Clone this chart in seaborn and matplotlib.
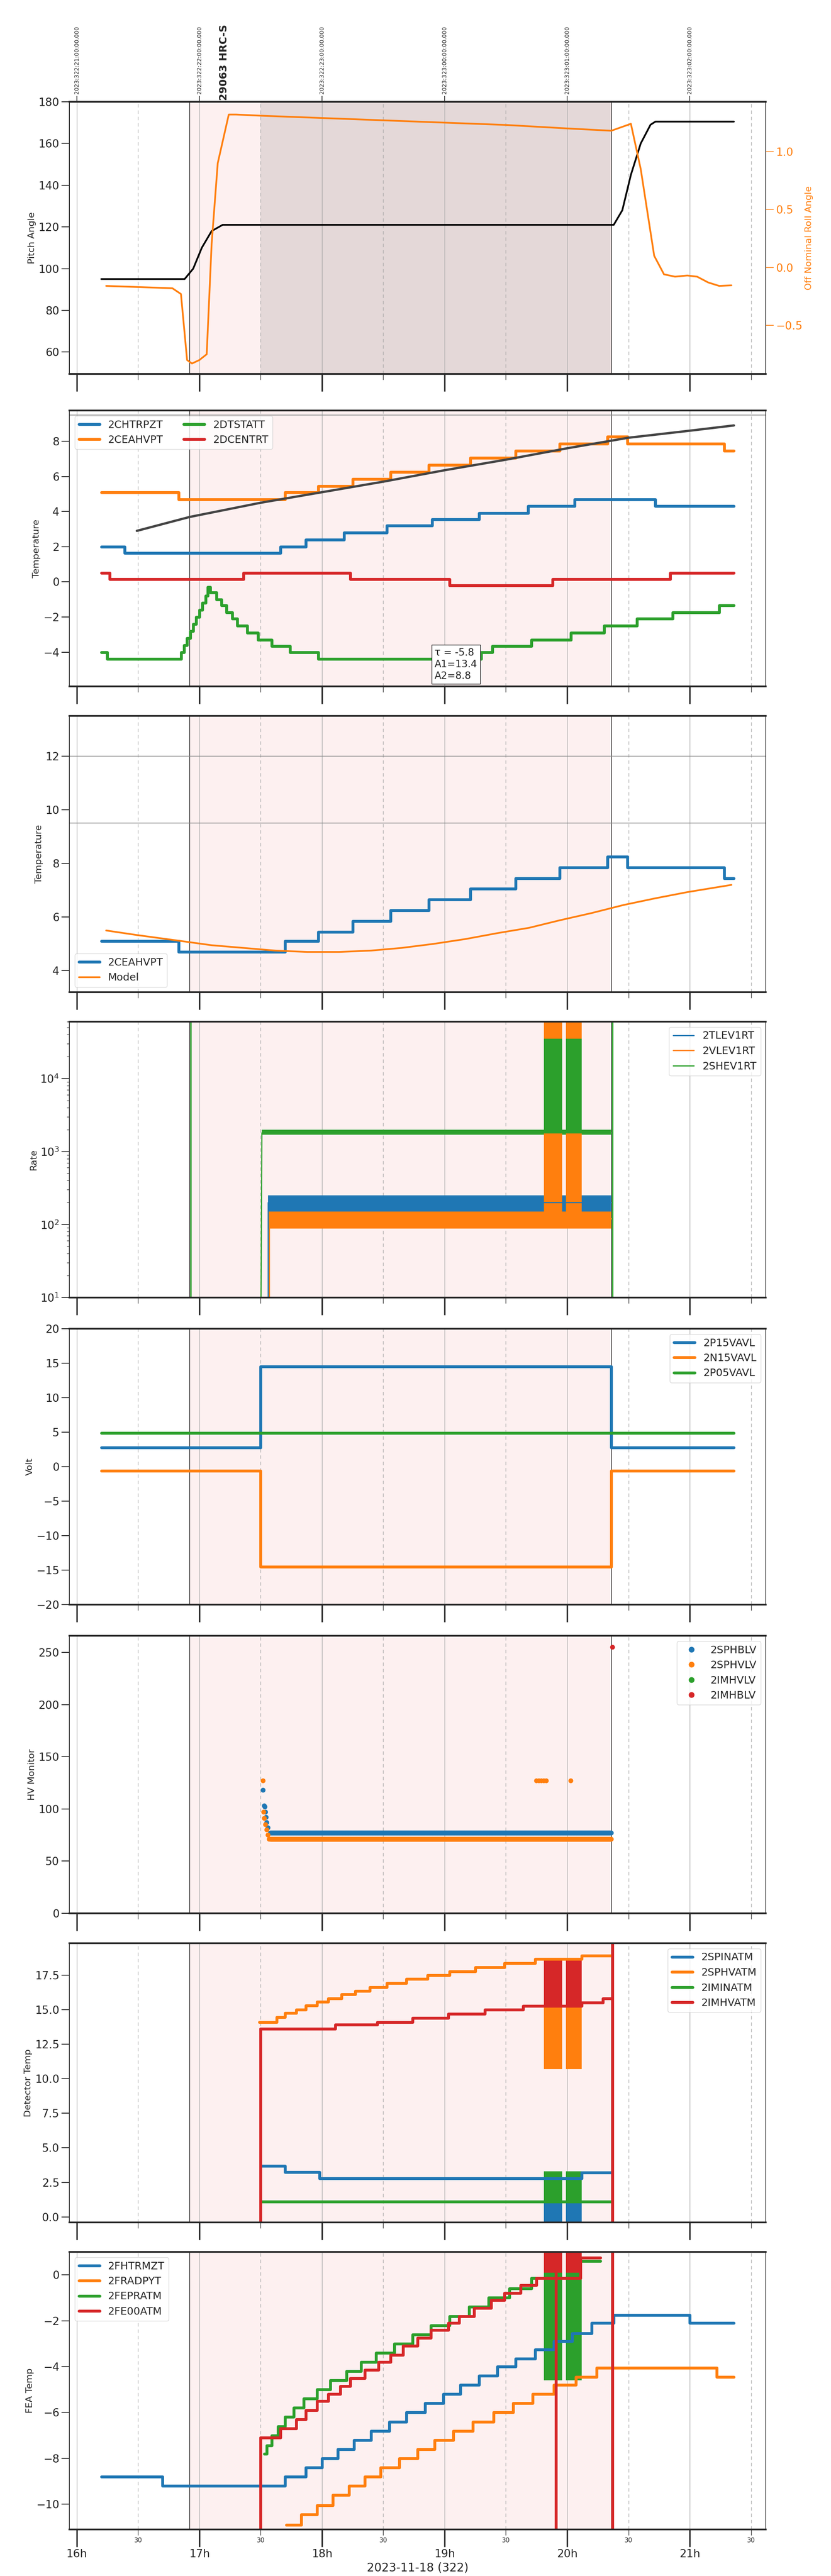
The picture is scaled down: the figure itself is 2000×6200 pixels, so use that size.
import numpy as np
import pandas as pd
import matplotlib
matplotlib.use("Agg")
import matplotlib.pyplot as plt
import seaborn as sns

sns.set_theme(style="ticks")
plt.rcParams['font.family'] = ['DejaVu Sans']

C = sns.color_palette("tab10")
BLUE, ORANGE, GREEN, RED = C[0], C[1], C[2], C[3]

# time in hours of 2023-11-18
T_START, T_END = 15.94, 21.62
OBS_START, HV_ON, OBS_END = 16.92, 17.5, 20.36

# ---- panel 1: pitch / roll
pitch_t = [16.2, 16.88, 16.95, 17.02, 17.1, 17.19, 20.38, 20.45, 20.52, 20.6, 20.68, 20.72, 21.36]
pitch_v = [95, 95, 100, 110, 118, 121, 121, 128, 145, 160, 169, 170.5, 170.5]
roll_t = [16.24, 16.78, 16.85, 16.9, 16.94, 17.0, 17.06, 17.1, 17.15, 17.24, 17.3, 17.5, 18.0, 18.5,
          19.0, 19.5, 20.0, 20.36, 20.52, 20.6, 20.71, 20.79, 20.88, 20.98, 21.06, 21.15, 21.24, 21.34]
roll_v = [-0.16, -0.18, -0.23, -0.8, -0.83, -0.8, -0.75, 0.2, 0.9, 1.32, 1.32, 1.31, 1.29, 1.27,
          1.25, 1.23, 1.2, 1.18, 1.24, 0.85, 0.1, -0.06, -0.08, -0.07, -0.08, -0.13, -0.16, -0.155]

# ---- panel 2: temperatures (step starts)
chtrpzt_t = [16.2, 16.39, 17.66, 17.87, 18.18, 18.53, 18.9, 19.28, 19.68, 20.06, 20.72]
chtrpzt_v = [2.0, 1.65, 2.0, 2.4, 2.8, 3.2, 3.55, 3.9, 4.3, 4.7, 4.3]
ceahvpt_t = [16.2, 16.83, 17.70, 17.97, 18.25, 18.56, 18.87, 19.21, 19.58, 19.94, 20.33, 20.49, 21.28]
ceahvpt_v = [5.1, 4.7, 5.1, 5.45, 5.85, 6.25, 6.65, 7.05, 7.45, 7.85, 8.25, 7.85, 7.45]
dtstatt_t = [16.2, 16.25, 16.85, 16.875, 16.9, 16.925, 16.95, 16.975, 17.0, 17.025, 17.05, 17.07,
             17.09, 17.14, 17.18, 17.22, 17.27, 17.31, 17.39, 17.48, 17.59, 17.74, 17.97, 19.3,
             19.39, 19.71, 20.03, 20.3, 20.57, 20.86, 21.24]
dtstatt_v = [-4.0, -4.4, -4.0, -3.6, -3.2, -2.8, -2.4, -2.0, -1.6, -1.2, -0.8, -0.3,
             -0.6, -1.0, -1.35, -1.75, -2.1, -2.5, -2.9, -3.3, -3.65, -4.0, -4.4, -4.0,
             -3.65, -3.3, -2.9, -2.5, -2.1, -1.75, -1.35]
dcentrt_t = [16.2, 16.27, 17.36, 18.23, 19.04, 19.88, 20.84]
dcentrt_v = [0.5, 0.15, 0.5, 0.15, -0.2, 0.15, 0.5]
fit_t = [16.49, 16.92, 17.5, 18.0, 18.5, 19.0, 19.5, 20.0, 20.5, 21.0, 21.36]
fit_v = [2.9, 3.69, 4.5, 5.1, 5.7, 6.35, 6.95, 7.6, 8.2, 8.6, 8.9]

# ---- panel 3: model
model_t = [16.24, 16.49, 16.83, 17.1, 17.36, 17.62, 17.88, 18.14, 18.4, 18.65, 18.91, 19.17,
           19.43, 19.69, 19.94, 20.2, 20.46, 20.72, 20.98, 21.34]
model_v = [5.5, 5.33, 5.12, 4.95, 4.85, 4.75, 4.7, 4.7, 4.75, 4.85, 5.0, 5.18,
           5.4, 5.6, 5.88, 6.15, 6.45, 6.7, 6.93, 7.2]

# ---- panel 4: rates (band low / high)
tlev_band = (150, 250)
vlev_band = (88, 150)
shev_band = (1700, 2000)
burst1 = (19.81, 19.96)
burst2 = (19.99, 20.12)
vlev_burst = (100, 60000)
shev_burst = (1800, 35000)

# ---- panel 5: volts
p15_t, p15_v = [16.2, 17.5, 20.36], [2.8, 14.5, 2.8]
n15_t, n15_v = [16.2, 17.5, 20.36], [-0.6, -14.5, -0.6]
p05_t, p05_v = [16.2], [4.9]

# ---- panel 6: HV monitor
sphblv_t = [17.52, 17.53, 17.535, 17.54, 17.545, 17.55, 17.56]
sphblv_v = [118, 103, 102, 97, 92, 87, 82]
sphblv_level = 77
sphvlv_t = [17.52, 17.525, 17.53, 17.54, 17.55, 17.56, 17.57]
sphvlv_v = [127, 97, 91, 85, 80, 75, 71]
sphvlv_level = 71
sphvlv_hi_t = [19.75, 19.77, 19.79, 19.81, 19.83, 20.03]
imhblv_t, imhblv_v = [20.37], [255]

# ---- panel 7: detector temps
spinatm_t = [17.51, 17.7, 17.98, 20.12]
spinatm_v = [3.7, 3.25, 2.8, 3.2]
sphvatm_t = [17.49, 17.63, 17.7, 17.79, 17.87, 17.96, 18.05, 18.16, 18.27, 18.39, 18.53, 18.69,
             18.86, 19.04, 19.25, 19.49, 19.74, 20.12]
sphvatm_v = [14.1, 14.45, 14.75, 15.0, 15.3, 15.55, 15.8, 16.1, 16.35, 16.6, 16.9, 17.2,
             17.5, 17.75, 18.05, 18.35, 18.65, 18.9]
iminatm_t, iminatm_v = [17.51], [1.1]
imhvatm_t = [17.5, 18.11, 18.45, 18.74, 19.03, 19.33, 19.64, 20.12, 20.29]
imhvatm_v = [13.6, 13.9, 14.1, 14.4, 14.7, 15.0, 15.25, 15.5, 15.8]

# ---- panel 8: FEA temps
fhtrmzt_t = [16.2, 16.7, 17.7, 17.87, 18.0, 18.13, 18.26, 18.4, 18.55, 18.69, 18.84, 18.99,
             19.13, 19.28, 19.43, 19.58, 19.74, 19.89, 20.04, 20.2, 20.38, 21.0]
fhtrmzt_v = [-8.8, -9.2, -8.8, -8.4, -8.0, -7.6, -7.2, -6.8, -6.4, -6.0, -5.6, -5.2,
             -4.8, -4.4, -4.0, -3.65, -3.25, -2.9, -2.55, -2.1, -1.75, -2.1]
fradpyt_t = [17.71, 17.83, 17.96, 18.09, 18.22, 18.35, 18.48, 18.63, 18.78, 18.92, 19.07, 19.23,
             19.4, 19.56, 19.72, 19.89, 20.07, 20.24, 21.22]
fradpyt_v = [-10.9, -10.45, -10.05, -9.6, -9.2, -8.8, -8.4, -8.0, -7.6, -7.2, -6.8, -6.4,
             -6.0, -5.6, -5.2, -4.8, -4.45, -4.05, -4.45]
fepratm_t = [17.53, 17.55, 17.59, 17.64, 17.70, 17.77, 17.85, 17.96, 18.07, 18.20, 18.32, 18.44,
             18.59, 18.74, 18.89, 19.04, 19.2, 19.36, 19.53, 19.71, 20.11]
fepratm_v = [-7.8, -7.45, -7.0, -6.6, -6.2, -5.8, -5.4, -5.0, -4.6, -4.2, -3.8, -3.4,
             -3.0, -2.6, -2.2, -1.8, -1.4, -1.0, -0.6, -0.15, 0.6]
fe00atm_t = [17.5, 17.66, 17.79, 17.87, 17.96, 18.05, 18.15, 18.23, 18.35, 18.46, 18.56, 18.66,
             18.78, 18.89, 19.03, 19.12, 19.24, 19.38, 19.49, 19.62, 19.75, 20.11]
fe00atm_v = [-7.1, -6.7, -6.3, -5.9, -5.5, -5.2, -4.85, -4.5, -4.15, -3.8, -3.5, -3.1,
             -2.75, -2.4, -2.1, -1.8, -1.45, -1.1, -0.8, -0.45, -0.15, 0.75]

top_ticks = [16, 17, 18, 19, 20, 21]
top_labels = ["2023:322:21:00:00.000", "2023:322:22:00:00.000", "2023:322:23:00:00.000",
              "2023:323:00:00:00.000", "2023:323:01:00:00.000", "2023:323:02:00:00.000"]
hour_labels = ["16h", "17h", "18h", "19h", "20h", "21h"]


def steps(t, v, end):
    return pd.DataFrame({"t": list(t) + [end], "v": list(v) + [v[-1]]})


def step_line(ax, t, v, end, color, label, lw=5):
    d = steps(t, v, end)
    sns.lineplot(data=d, x="t", y="v", ax=ax, color=color, lw=lw, label=label,
                 drawstyle="steps-post", estimator=None, sort=False)


fig = plt.figure(figsize=(20, 62), dpi=100)
L, W = 0.0835, 0.838
tops = [245, 988, 1723, 2459, 3198, 3937, 4677, 5420]
bots = [900, 1652, 2388, 3123, 3862, 4605, 5349, 6088]
axes = [fig.add_axes([L, 1 - b / 6200, W, (b - t) / 6200]) for t, b in zip(tops, bots)]

for i, ax in enumerate(axes):
    ax.set_xlim(T_START, T_END)
    ax.axvspan(OBS_START, OBS_END, color="#fdf0f0", zorder=0)
    for h in range(16, 22):
        ax.axvline(h, color="#aaaaaa", lw=1, zorder=0.5)
        ax.axvline(h + 0.5, color="#aaaaaa", lw=1, ls="--", dashes=(6, 5), zorder=0.5)
    ax.axvline(OBS_START, color="black", lw=1, zorder=0.6)
    ax.axvline(OBS_END, color="black", lw=1, zorder=0.6)
    ax.set_xticks(top_ticks)
    ax.set_xticks([h + 0.5 for h in range(16, 22)], minor=True)
    ax.tick_params(axis="x", which="major", length=30, width=2.5)
    ax.tick_params(axis="x", which="minor", length=10, width=1, labelsize=11)
    ax.tick_params(axis="y", which="major", length=14, width=1.5, labelsize=19)
    ax.set_xticklabels([])
    ax.set_xticklabels([], minor=True)
    ax.spines["top"].set_linewidth(3)
    ax.spines["bottom"].set_linewidth(3)
    ax.set_xlabel("")

# panel 1
ax = axes[0]
ax.axvspan(HV_ON, OBS_END, color="#e4d8d8", zorder=0.2)
sns.lineplot(x=pitch_t, y=pitch_v, ax=ax, color="black", lw=3, estimator=None, sort=False)
ax.set_ylim(49.5, 180)
ax.set_ylabel("Pitch Angle", fontsize=16)
ax2 = ax.twinx()
sns.lineplot(x=roll_t, y=roll_v, ax=ax2, color=ORANGE, lw=3, estimator=None, sort=False)
ax2.set_ylim(-0.92, 1.43)
ax2.set_ylabel("Off Nominal Roll Angle", color=ORANGE, fontsize=16)
ax2.tick_params(axis="y", colors=ORANGE, length=14, labelsize=19)
ax2.spines["top"].set_linewidth(3)
ax2.spines["bottom"].set_linewidth(3)
sec = ax.secondary_xaxis("top")
sec.set_xticks(top_ticks)
sec.set_xticklabels(top_labels, rotation=90, fontsize=10)
sec.tick_params(length=10)
ax.text(17.2, 1.005, "29063 HRC-S", transform=ax.get_xaxis_transform(), rotation=90,
        ha="center", va="bottom", fontsize=18, fontweight="bold")

# panel 2
ax = axes[1]
ax.axhline(9.5, color="#888888", lw=1.2)
step_line(ax, chtrpzt_t, chtrpzt_v, 21.36, BLUE, "2CHTRPZT")
step_line(ax, ceahvpt_t, ceahvpt_v, 21.36, ORANGE, "2CEAHVPT")
step_line(ax, dtstatt_t, dtstatt_v, 21.36, GREEN, "2DTSTATT")
step_line(ax, dcentrt_t, dcentrt_v, 21.36, RED, "2DCENTRT")
sns.lineplot(x=fit_t, y=fit_v, ax=ax, color="#444444", lw=4, estimator=None, sort=False)
ax.set_ylim(-5.95, 9.75)
ax.set_yticks([-4, -2, 0, 2, 4, 6, 8])
ax.set_ylabel("Temperature", fontsize=16)
ax.legend(loc="upper left", ncol=2, fontsize=18, handlelength=2)
ax.text(18.92, -3.75, "\u03c4 = -5.8\nA1=13.4\nA2=8.8", fontsize=17, ha="left", va="top",
        bbox=dict(boxstyle="square,pad=0.3", fc="white", ec="black"), zorder=10, clip_on=False)

# panel 3
ax = axes[2]
ax.axhline(12, color="#888888", lw=1.2)
ax.axhline(9.5, color="#888888", lw=1.2)
step_line(ax, ceahvpt_t, ceahvpt_v, 21.36, BLUE, "2CEAHVPT")
sns.lineplot(x=model_t, y=model_v, ax=ax, color=ORANGE, lw=3, label="Model", estimator=None, sort=False)
ax.set_ylim(3.2, 13.5)
ax.set_yticks([4, 6, 8, 10, 12])
ax.set_ylabel("Temperature", fontsize=16)
ax.legend(loc="lower left", fontsize=18)

# panel 4
ax = axes[3]
ax.set_yscale("log")
ax.fill_between([17.56, OBS_END], *tlev_band, color=BLUE, lw=0)
ax.fill_between([17.56, OBS_END], *vlev_band, color=ORANGE, lw=0)
ax.fill_between([HV_ON + 0.01, OBS_END], *shev_band, color=GREEN, lw=0)
for b in (burst1, burst2):
    ax.fill_between(b, *vlev_burst, color=ORANGE, lw=0)
    ax.fill_between(b, *shev_burst, color=GREEN, lw=0)
sns.lineplot(x=[17.56, 17.56, OBS_END], y=[1, 200, 200], ax=ax, color=BLUE, lw=2,
             label="2TLEV1RT", estimator=None, sort=False)
sns.lineplot(x=[17.57, 17.57, OBS_END], y=[1, 120, 120], ax=ax, color=ORANGE, lw=2,
             label="2VLEV1RT", estimator=None, sort=False)
sns.lineplot(x=[HV_ON, HV_ON + 0.01, OBS_END], y=[1, 1800, 1800], ax=ax, color=GREEN, lw=2,
             label="2SHEV1RT", estimator=None, sort=False)
ax.plot([16.93, 16.93], [1, 1e6], color=GREEN, lw=2.5)
ax.plot([20.37, 20.37], [1, 1e6], color=GREEN, lw=2.5)
ax.set_ylim(10, 6e4)
ax.set_ylabel("Rate", fontsize=16)
ax.legend(loc="upper right", fontsize=18)

# panel 5
ax = axes[4]
step_line(ax, p15_t, p15_v, 21.36, BLUE, "2P15VAVL")
step_line(ax, n15_t, n15_v, 21.36, ORANGE, "2N15VAVL")
step_line(ax, p05_t, p05_v, 21.36, GREEN, "2P05VAVL")
ax.set_ylim(-20, 20)
ax.set_yticks(range(-20, 21, 5))
ax.set_ylabel("Volt", fontsize=16)
ax.legend(loc="upper right", fontsize=18)

# panel 6
ax = axes[5]
grid = np.arange(17.58, OBS_END, 0.004)
hv = pd.concat([
    pd.DataFrame({"t": sphblv_t + list(grid), "v": sphblv_v + [sphblv_level] * len(grid), "s": "2SPHBLV"}),
    pd.DataFrame({"t": sphvlv_t + list(grid) + sphvlv_hi_t,
                  "v": sphvlv_v + [sphvlv_level] * len(grid) + [127] * len(sphvlv_hi_t), "s": "2SPHVLV"}),
    pd.DataFrame({"t": [np.nan], "v": [np.nan], "s": "2IMHVLV"}),
    pd.DataFrame({"t": imhblv_t, "v": imhblv_v, "s": "2IMHBLV"}),
], ignore_index=True)
sns.scatterplot(data=hv, x="t", y="v", hue="s", palette=[BLUE, ORANGE, GREEN, RED], ax=ax,
                s=70, linewidth=0)
ax.set_ylim(0, 266)
ax.set_ylabel("HV Monitor", fontsize=16)
ax.set_xlabel("")
ax.legend(loc="upper right", fontsize=18, markerscale=1.2)

# panel 7
ax = axes[6]
step_line(ax, spinatm_t, spinatm_v, OBS_END, BLUE, "2SPINATM")
step_line(ax, sphvatm_t, sphvatm_v, OBS_END, ORANGE, "2SPHVATM")
step_line(ax, iminatm_t, iminatm_v, OBS_END, GREEN, "2IMINATM")
step_line(ax, imhvatm_t, imhvatm_v, OBS_END, RED, "2IMHVATM")
for b in (burst1, burst2):
    ax.fill_between(b, -1, 2.8, color=BLUE, lw=0)
    ax.fill_between(b, 1.1, 3.3, color=GREEN, lw=0)
    ax.fill_between(b, 10.7, 18.7, color=ORANGE, lw=0)
    ax.fill_between(b, 15.2, 18.7, color=RED, lw=0)
ax.plot([HV_ON, HV_ON], [-1, 13.6], color=RED, lw=5)
ax.plot([20.37, 20.37], [-1, 25], color=RED, lw=5)
ax.set_ylim(-0.4, 19.8)
ax.set_yticks(np.arange(0, 18, 2.5))
ax.set_ylabel("Detector Temp", fontsize=16)
ax.legend(loc="upper right", fontsize=18)

# panel 8
ax = axes[7]
step_line(ax, fhtrmzt_t, fhtrmzt_v, 21.36, BLUE, "2FHTRMZT")
step_line(ax, fradpyt_t, fradpyt_v, 21.36, ORANGE, "2FRADPYT")
step_line(ax, fepratm_t, fepratm_v, 20.27, GREEN, "2FEPRATM")
step_line(ax, fe00atm_t, fe00atm_v, 20.27, RED, "2FE00ATM")
for b in (burst1, burst2):
    ax.fill_between(b, -4.6, 0.9, color=GREEN, lw=0)
    ax.fill_between(b, 0.1, 1.0, color=RED, lw=0)
ax.plot([HV_ON, HV_ON], [-12, -7.1], color=RED, lw=5)
ax.plot([19.91, 19.91], [-12, 2], color=RED, lw=5)
ax.plot([20.37, 20.37], [-12, 2], color=RED, lw=5)
ax.set_ylim(-11.1, 1.0)
ax.set_yticks([-10, -8, -6, -4, -2, 0])
ax.set_ylabel("FEA Temp", fontsize=16)
ax.legend(loc="upper left", fontsize=18)
ax.set_xticklabels(hour_labels, fontsize=19)
ax.set_xticklabels(["30"] * 6, minor=True, fontsize=11)
ax.set_xlabel("2023-11-18 (322)", fontsize=20)

for ax in axes[:-1]:
    ax.set_xlabel("")

fig.savefig("out.png", dpi=100)
